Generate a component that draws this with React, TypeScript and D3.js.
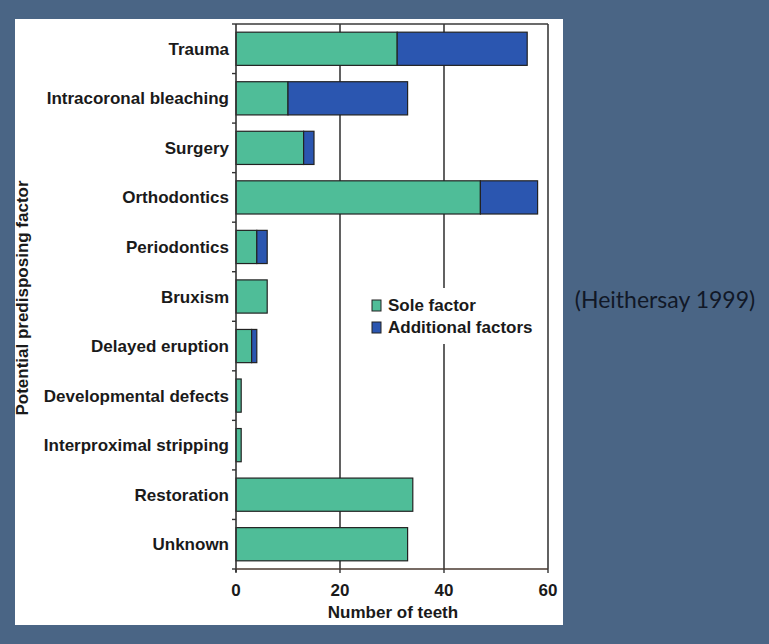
import React from "react";
import * as d3 from "d3";

const categories = [
  "Trauma",
  "Intracoronal bleaching",
  "Surgery",
  "Orthodontics",
  "Periodontics",
  "Bruxism",
  "Delayed eruption",
  "Developmental defects",
  "Interproximal stripping",
  "Restoration",
  "Unknown",
];
const soleFactor = [31, 10, 13, 47, 4, 6, 3, 1, 1, 34, 33];
const additionalFactors = [25, 23, 2, 11, 2, 0, 1, 0, 0, 0, 0];
const xTicks = [0, 20, 40, 60];
const seriesNames = ["Sole factor", "Additional factors"];
const seriesColors = ["#4fbd98", "#2b56b0"];

const W = 769;
const H = 644;
const left = 236;
const right = 548;
const top = 24;
const bottom = 569;

export default function App() {
  const x = d3.scaleLinear().domain([0, 60]).range([left, right]);
  const y = d3
    .scaleBand<string>()
    .domain(categories)
    .range([top, bottom])
    .paddingInner(0.33)
    .paddingOuter(0.165);

  const stacked = d3.stack<number>().keys(["sole", "add"]).value((i, k) =>
    k === "sole" ? soleFactor[i] : additionalFactors[i]
  )(d3.range(categories.length));

  const font = "'Liberation Sans', Arial, sans-serif";
  const step = y.step();
  const fs = 17;

  return (
    <svg
      width={W}
      height={H}
      style={{ position: "absolute", left: 0, top: 0 }}
      fontFamily={font}
    >
      <rect x={0} y={0} width={W} height={H} fill="#4a6585" />
      <rect x={15} y={19} width={548} height={606} fill="#ffffff" />

      {/* vertical grid lines */}
      {xTicks.slice(1).map((t) => (
        <line
          key={t}
          x1={x(t)}
          x2={x(t)}
          y1={top}
          y2={bottom}
          stroke="#3a3a3a"
          strokeWidth={1.6}
        />
      ))}
      <line x1={left} x2={right} y1={top} y2={top} stroke="#3a3a3a" strokeWidth={1.6} />

      {/* legend */}
      <rect x={362} y={288} width={182} height={56} fill="#ffffff" />
      {seriesNames.map((s, i) => (
        <g key={s} transform={`translate(372, ${300 + i * 22})`}>
          <rect width={9} height={11} fill={seriesColors[i]} stroke="#222" strokeWidth={1} />
          <text x={16} y={11} fontSize={fs} fontWeight="bold" fill="#1a1a1a">
            {s}
          </text>
        </g>
      ))}

      {/* bars */}
      {stacked.map((layer, li) =>
        layer.map((d, i) =>
          d[1] - d[0] > 0 ? (
            <rect
              key={`${li}-${i}`}
              x={x(d[0])}
              y={y(categories[i])!}
              width={x(d[1]) - x(d[0])}
              height={y.bandwidth()}
              fill={seriesColors[li]}
              stroke="#222"
              strokeWidth={1.2}
            />
          ) : null
        )
      )}

      {/* axes */}
      <line x1={left} x2={left} y1={top} y2={bottom + 3} stroke="#333" strokeWidth={1.6} />
      <line x1={left} x2={right} y1={bottom} y2={bottom} stroke="#4a3a30" strokeWidth={1.6} />
      {d3.range(categories.length + 1).map((i) => (
        <line
          key={i}
          x1={left - 4}
          x2={left}
          y1={top + i * step}
          y2={top + i * step}
          stroke="#333"
          strokeWidth={1.4}
        />
      ))}
      {xTicks.map((t) => (
        <g key={t}>
          <line x1={x(t)} x2={x(t)} y1={bottom} y2={bottom + 4} stroke="#333" strokeWidth={1.4} />
          <text
            x={x(t)}
            y={596}
            textAnchor="middle"
            fontSize={fs}
            fontWeight="bold"
            fill="#1a1a1a"
          >
            {t}
          </text>
        </g>
      ))}
      {categories.map((c) => (
        <text
          key={c}
          x={229}
          y={y(c)! + y.bandwidth() / 2 + 6}
          textAnchor="end"
          fontSize={fs}
          fontWeight="bold"
          fill="#1a1a1a"
        >
          {c}
        </text>
      ))}
      <text x={393} y={618} textAnchor="middle" fontSize={fs} fontWeight="bold" fill="#1a1a1a">
        Number of teeth
      </text>
      <text
        transform={`translate(28, 298) rotate(-90)`}
        textAnchor="middle"
        fontSize={fs}
        fontWeight="bold"
        fill="#1a1a1a"
      >
        Potential predisposing factor
      </text>

      <text
        x={665}
        y={308}
        textAnchor="middle"
        fontSize={23}
        fontFamily="Lato, sans-serif"
        fill="#111827"
      >
        (Heithersay 1999)
      </text>
    </svg>
  );
}
